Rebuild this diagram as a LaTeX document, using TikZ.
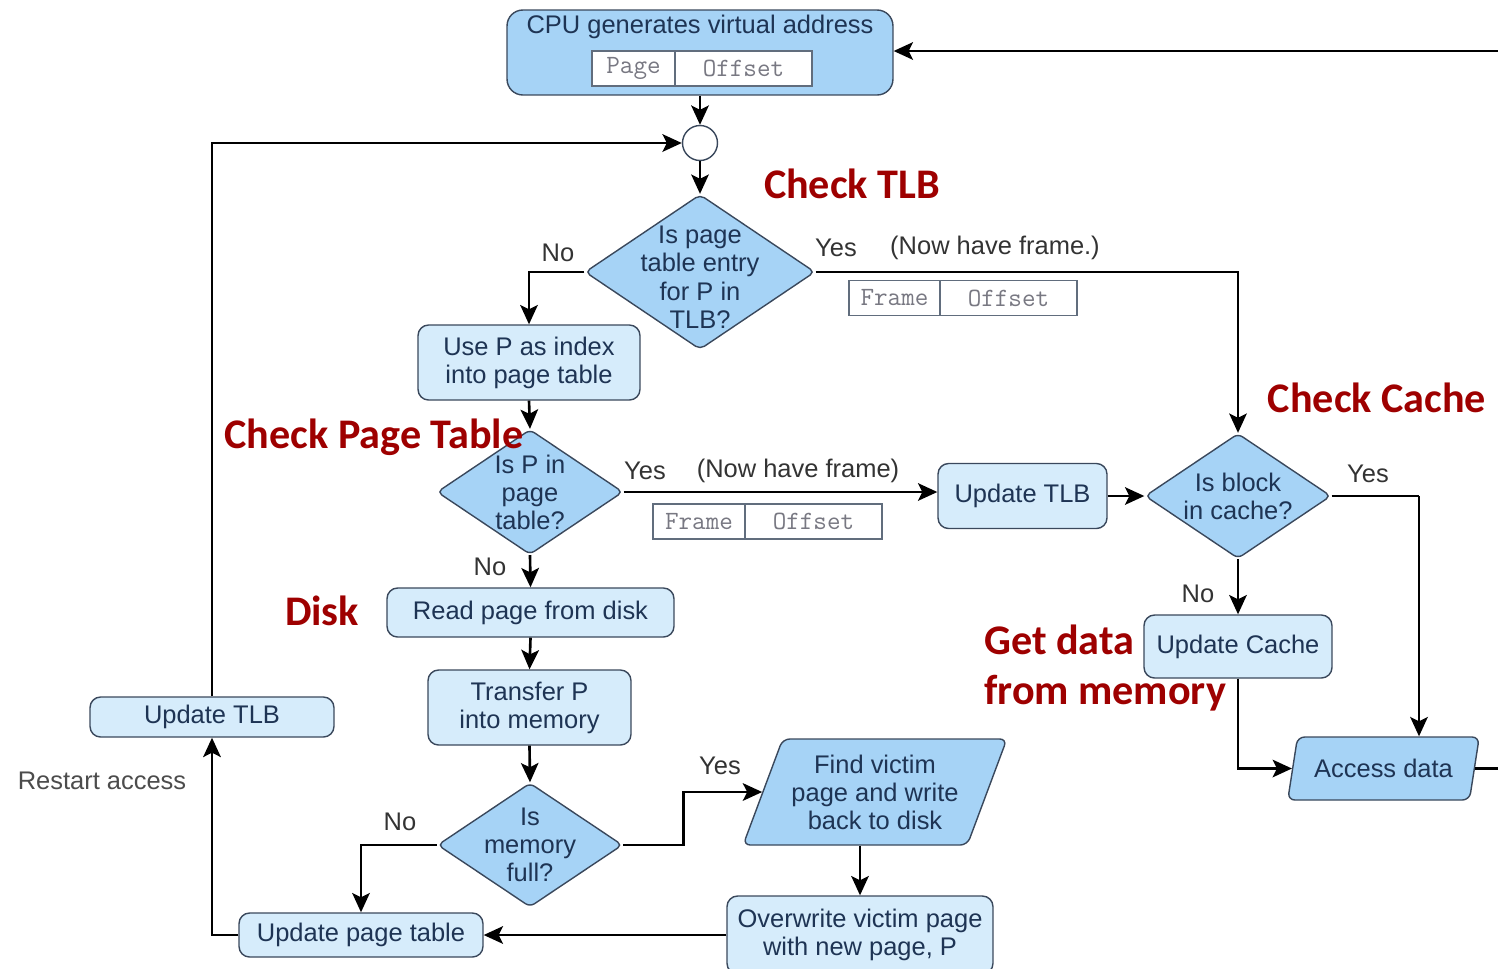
\documentclass[tikz,border=0pt]{standalone}
\usepackage{fontspec}
\setmainfont{Liberation Sans}
\newfontfamily\headfont{Carlito}
\usepackage{tikz}
\usetikzlibrary{arrows.meta,shapes.geometric,positioning}
\definecolor{lightbox}{RGB}{214,236,251}
\definecolor{deepbox}{RGB}{166,211,246}
\definecolor{rim}{RGB}{58,72,92}
\definecolor{navytext}{RGB}{30,52,84}
\definecolor{headred}{RGB}{158,0,0}
\definecolor{fieldgray}{RGB}{120,120,130}
\tikzstyle{arr}=[line width=1.5pt,-{Stealth[length=11pt,width=10pt,inset=2.5pt]}]
\tikzstyle{link}=[line width=1.5pt]
\tikzstyle{txt}=[font=\fontsize{14.5}{16}\selectfont,text=navytext,align=center]
\tikzstyle{lbl}=[font=\fontsize{14.5}{16.5}\selectfont,text=black!80]
\tikzstyle{head}=[font=\headfont\bfseries\fontsize{24}{29}\selectfont,text=headred]
\tikzstyle{procbox}=[draw=rim,line width=0.8pt,fill=lightbox,rounded corners=6pt,inner sep=1pt,txt]
\tikzstyle{bigbox}=[draw=rim,line width=0.8pt,fill=deepbox,rounded corners=9pt]
\tikzstyle{decision}=[diamond,draw=rim,line width=0.8pt,fill=deepbox,rounded corners=3pt,inner sep=0pt]
\tikzstyle{qlbl}=[txt]
\tikzstyle{slanted}=[trapezium,trapezium stretches=true,draw=rim,line width=0.8pt,fill=deepbox,rounded corners=4pt,inner sep=1pt,txt]
\tikzstyle{field}=[draw=rim!80,line width=0.6pt,fill=white,outer sep=0pt,minimum height=0.7cm,inner sep=0pt,font=\ttfamily\fontsize{15}{16}\selectfont,text=fieldgray]
\begin{document}
\begin{tikzpicture}[x=0.02cm,y=-0.02cm]
	\useasboundingbox (0,0) rectangle (1498,968);
	% address from the CPU
	\node[bigbox,minimum width=7.72cm,minimum height=1.7cm] (cpu) at (700,52.5) {};
	\node[txt] (cputxt) at (700,27) {CPU generates virtual address};
	\node[field,minimum width=1.66cm] (pgA) at (633.5,68.5) {Page};
	\node[field,minimum width=2.74cm,right=0pt of pgA] (ofA) {Offset};
	\node[circle,draw=rim,line width=0.8pt,fill=white,minimum size=0.7cm,inner sep=0pt] (join) at (700,143) {};
	\coordinate (rin) at (1498,51);
	% TLB
	\node[decision,minimum width=4.6cm,minimum height=3.1cm,label={[qlbl,yshift=-3pt]center:Is page\\table entry\\for P in\\TLB?}] (tlbq) at (700,272) {};
	\node[field,minimum width=1.82cm] (frA) at (894.5,298) {Frame};
	\node[field,minimum width=2.74cm,right=0pt of frA] (ofB) {Offset};
	% page table
	\node[procbox,minimum width=4.44cm,minimum height=1.5cm] (usep) at (529,362.5) {Use P as index\\into page table};
	\node[decision,minimum width=3.72cm,minimum height=2.5cm,label={[qlbl]center:Is P in\\page\\table?}] (ptq) at (530,492) {};
	\node[field,minimum width=1.84cm] (frB) at (699,521.5) {Frame};
	\node[field,minimum width=2.74cm,right=0pt of frB] (ofC) {Offset};
	\node[procbox,minimum width=3.38cm,minimum height=1.3cm] (tlbupd) at (1022.5,496) {Update TLB};
	% cache
	\node[decision,minimum width=3.72cm,minimum height=2.5cm,label={[qlbl]center:Is block\\in cache?}] (cacheq) at (1238,496) {};
	\node[procbox,minimum width=3.76cm,minimum height=1.26cm] (cacheupd) at (1238,646.5) {Update Cache};
	\node[slanted,trapezium left angle=70,trapezium right angle=110,minimum width=3.86cm,minimum height=1.26cm] (access) at (1383.5,768.5) {Access data};
	\coordinate (yescol) at (1419,496);
	\coordinate (aout) at (1498,768.5);
	% disk
	\node[procbox,minimum width=5.74cm,minimum height=0.98cm] (readdisk) at (530.5,612.5) {Read page from disk};
	\node[procbox,minimum width=4.06cm,minimum height=1.5cm] (transfer) at (529.5,707.5) {Transfer P\\into memory};
	\node[decision,minimum width=3.7cm,minimum height=2.48cm,label={[qlbl]center:Is\\memory\\full?}] (memq) at (530,845) {};
	\node[slanted,trapezium left angle=65,trapezium right angle=115,minimum width=5.28cm,minimum height=2.12cm] (victim) at (875,792) {Find victim\\page and write\\back to disk};
	\node[procbox,minimum width=5.32cm,minimum height=1.56cm] (overwrite) at (860,935) {Overwrite victim page\\with new page, P};
	\node[procbox,minimum width=4.88cm,minimum height=0.88cm] (ptupd) at (361,935) {Update page table};
	\node[procbox,minimum width=4.88cm,minimum height=0.8cm] (tlbupdL) at (212,717) {Update TLB};
	% connectors
	\draw[arr] (cpu.south) -- (join.north);
	\draw[arr] (join.south) -- (tlbq.north);
	\draw[arr] (rin) -- (rin -| cpu.east);
	\draw[arr] (tlbq.west) -| (usep.north);
	\draw[arr] (tlbq.east) -| (cacheq.north);
	\draw[arr] (usep.south) -- (ptq.north);
	\draw[arr] (ptq.east) -- (ptq.east -| tlbupd.west);
	\draw[arr] (tlbupd.east) -- (cacheq.west);
	\draw[arr] (cacheq.south) -- (cacheupd.north);
	\draw[link] (cacheq.east) -- (yescol);
	\draw[arr] (yescol) -- (yescol |- access.north);
	\draw[arr] (cacheupd.south) |- (access.west);
	\draw[link] (access.east) -- (aout);
	\draw[arr] (ptq.south) -- (readdisk.north);
	\draw[arr] (readdisk.south) -- (transfer.north);
	\draw[arr] (transfer.south) -- (memq.north);
	\draw[arr] (memq.west) -| (ptupd.north);
	\draw[arr] (memq.east) -- ++(60,0) |- (victim.west);
	\draw[arr] (victim.south -| overwrite.north) -- (overwrite.north);
	\draw[arr] (overwrite.west) -- (ptupd.east);
	\draw[arr] (ptupd.west) -| (tlbupdL.south);
	\draw[arr] (tlbupdL.north) |- (join.west);
	% labels
	\node[lbl] (noA) at (558,253) {No};
	\node[lbl] (yesA) at (836,248) {Yes};
	\node[lbl] (haveA) at (995,248) {(Now have frame.)};
	\node[lbl] (yesB) at (645,471) {Yes};
	\node[lbl] (haveB) at (798,471) {(Now have frame)};
	\node[lbl] (noB) at (490,567) {No};
	\node[lbl] (yesC) at (1368,474) {Yes};
	\node[lbl] (noC) at (1198,594) {No};
	\node[lbl] (noD) at (400,822) {No};
	\node[lbl] (yesD) at (720,766) {Yes};
	\node[lbl,text=black!70] (restart) at (102,781) {Restart access};
	% headings
	\node[head] (hTLB) at (852,184) {Check TLB};
	\node[head] (hPT) at (374,437) {Check Page Table};
	\node[head] (hCache) at (1377,398) {Check Cache};
	\node[head] (hDisk) at (322,611) {Disk};
	\node[head,align=left,anchor=west] (hMem) at (978,668) {Get data\\from memory};
\end{tikzpicture}
\end{document}
